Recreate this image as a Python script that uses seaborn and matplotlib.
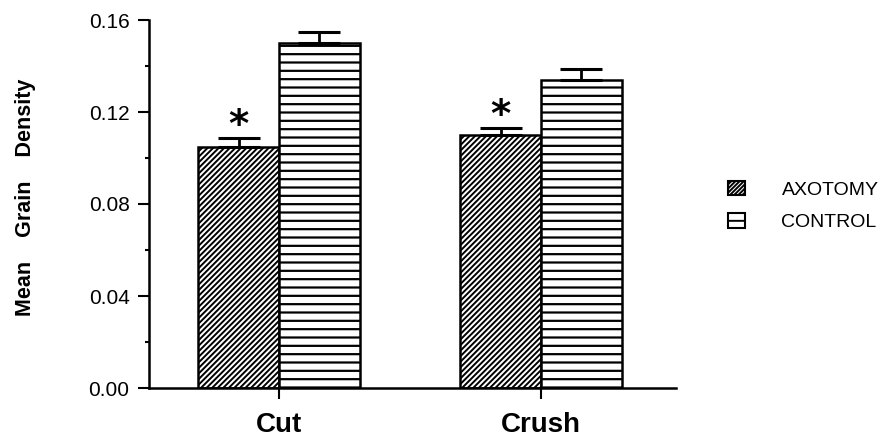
import matplotlib
matplotlib.use("Agg")
import matplotlib.pyplot as plt
from matplotlib.patches import Patch
from matplotlib.ticker import MultipleLocator
import seaborn as sns
import pandas as pd

# ---- data ----
categories = ["Cut", "Crush"]
groups = ["AXOTOMY", "CONTROL"]
axotomy_mean = [0.1047, 0.110]
control_mean = [0.150, 0.134]
axotomy_sem = [0.0040, 0.0030]
control_sem = [0.0050, 0.0048]
y_ticks = [0.00, 0.04, 0.08, 0.12, 0.16]
y_tick_labels = ["0.00", "0.04", "0.08", "0.12", "0.16"]
significant = [True, True]  # asterisk over axotomy bars

sns.set_style("white")
plt.rcParams["font.family"] = ["Liberation Sans", "DejaVu Sans"]
plt.rcParams["hatch.linewidth"] = 1.4
plt.rcParams["hatch.color"] = "black"
plt.rcParams["text.color"] = "black"
plt.rcParams["axes.labelcolor"] = "black"
plt.rcParams["xtick.color"] = "black"
plt.rcParams["ytick.color"] = "black"

df = pd.DataFrame({
    "condition": categories * 2,
    "group": [groups[0]] * 2 + [groups[1]] * 2,
    "mean": axotomy_mean + control_mean,
    "sem": axotomy_sem + control_sem,
})

W, H = 891, 438
fig = plt.figure(figsize=(W / 100, H / 100), dpi=100)
ax = fig.add_axes([149 / W, 1 - 388 / H, (676 - 149) / W, (388 - 20) / H])

sns.barplot(data=df, x="condition", y="mean", hue="group", order=categories,
            hue_order=groups, palette=["white", "white"], edgecolor="black",
            linewidth=1.8, width=0.615, errorbar=None, legend=False, ax=ax,
            saturation=1)

hatches = ["//////", "--"]
hatch_lw = [1.4, 1.6]
sems = [axotomy_sem, control_sem]
bar_conts = list(ax.containers)
for gi, cont in enumerate(bar_conts):
    for bi, bar in enumerate(cont):
        bar.set_hatch(hatches[gi])
        try:
            bar.set_hatch_linewidth(hatch_lw[gi])
        except Exception:
            pass
        bar.set_facecolor("white")
        bar.set_edgecolor("black")
        cx = bar.get_x() + bar.get_width() / 2
        top = bar.get_height()
        ax.errorbar(cx, top, yerr=[[0], [sems[gi][bi]]], color="black",
                    elinewidth=2, capsize=15, capthick=2.2, zorder=1)
        if gi == 0 and significant[bi]:
            ax.text(cx, top + sems[gi][bi] - 0.003, "*", ha="center",
                    va="bottom", fontsize=28, fontweight="bold",
                    family="DejaVu Sans", color="black")

ax.set_xlim(-0.496, 1.515)
ax.set_ylim(0, 0.16)
ax.set_yticks(y_ticks)
ax.set_yticklabels(y_tick_labels)
ax.yaxis.set_minor_locator(MultipleLocator(0.02))
ax.tick_params(axis="y", which="major", direction="out", length=8, width=1.5,
               pad=6, labelsize=15, left=True)
ax.tick_params(axis="y", which="minor", direction="out", length=3, width=1.5,
               left=True)
ax.tick_params(axis="x", which="major", direction="out", length=8, width=1.5,
               pad=9, labelsize=20, bottom=True)
for lab in ax.get_xticklabels():
    lab.set_fontweight("bold")

for s in ["top", "right"]:
    ax.spines[s].set_visible(False)
for s in ["left", "bottom"]:
    ax.spines[s].set_linewidth(1.8)
    ax.spines[s].set_color("black")

ax.set_xlabel("")
ax.set_ylabel("Mean    Grain    Density", fontsize=15.5, fontweight="bold")
ax.yaxis.set_label_coords((36 - 149) / (676 - 149), (388 - 197) / (388 - 20))

try:
    axo_handle = Patch(facecolor="black", edgecolor="black", hatch="///",
                       hatchcolor="white", linewidth=1.5)
except Exception:
    axo_handle = Patch(facecolor="white", edgecolor="black", hatch="////////",
                       linewidth=1.5)
handles = [axo_handle,
           Patch(facecolor="white", edgecolor="black", hatch="--", linewidth=1.5)]
fig.legend(handles, groups, loc="center left",
           bbox_to_anchor=(728 / W, 1 - 206 / H), frameon=False,
           fontsize=14, handlelength=0.85, handleheight=0.8,
           handletextpad=1.9, labelspacing=0.75, borderpad=0,
           borderaxespad=0)

fig.savefig("out.png", dpi=100)
